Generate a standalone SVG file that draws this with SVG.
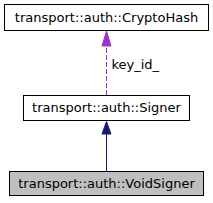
<svg xmlns="http://www.w3.org/2000/svg" width="213" height="203" viewBox="0 0 213 203">
<style>
.box{fill:#ffffff;stroke:#000000;stroke-width:1}
.cur{fill:#bfbfbf;stroke:#000000;stroke-width:1}
text{font-family:"DejaVu Sans",sans-serif;font-size:13px;text-anchor:middle;fill:#000000}
.lbl{text-anchor:start}
</style>
<rect width="213" height="203" fill="#ffffff"/>
<g id="connectors">
<line x1="106.5" y1="171" x2="106.5" y2="134" stroke="#191970" stroke-width="1"/>
<polygon points="106.5,121.5 102,134 111,134" fill="#191970" stroke="#191970"/>
<line x1="106.5" y1="95" x2="106.5" y2="46" stroke="#9a32cd" stroke-width="1" stroke-dasharray="5,2"/>
<polygon points="106.5,31 102,46 111,46" fill="#9a32cd" stroke="#9a32cd"/>
<text class="lbl" x="111.5" y="68.5">key_id_</text>
</g>
<g id="node-cryptohash">
<rect class="box" x="4.5" y="4.5" width="204" height="26"/>
<text x="106.5" y="21.5">transport::auth::CryptoHash</text>
</g>
<g id="node-signer">
<rect class="box" x="23.5" y="95.5" width="166" height="25"/>
<text x="106.5" y="112">transport::auth::Signer</text>
</g>
<g id="node-voidsigner">
<rect class="cur" x="9.5" y="171.5" width="194" height="24"/>
<text x="106.5" y="187.5">transport::auth::VoidSigner</text>
</g>
</svg>
